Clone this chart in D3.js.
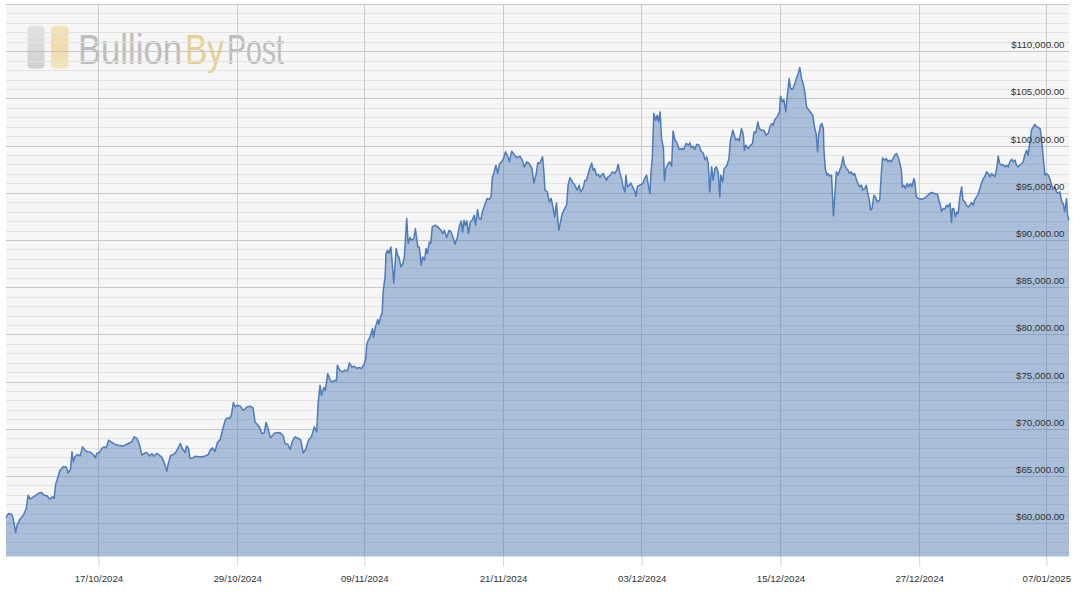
<!DOCTYPE html>
<html><head><meta charset="utf-8">
<script src="https://cdn.jsdelivr.net/npm/d3@7"></script>
<style>html,body{margin:0;padding:0;background:#fff;}svg{display:block;}</style>
</head><body><svg id="chart" width="1084" height="596"></svg>
<script>
// Bitcoin price (USD), 9 Oct 2024 – 8 Jan 2025
const priceSeries = [
["2024-10-09T00",60620],["2024-10-09T05",61080],["2024-10-09T12",60980],["2024-10-09T15",60550],["2024-10-09T20",59070],["2024-10-09T23",59840],
["2024-10-10T05",60480],["2024-10-10T12",60900],["2024-10-10T18",61610],["2024-10-10T22",63020],
["2024-10-11T02",62600],["2024-10-11T09",62840],["2024-10-11T16",63090],["2024-10-11T21",63260],
["2024-10-12T02",63310],["2024-10-12T07",63020],["2024-10-12T13",62950],["2024-10-12T19",62600],
["2024-10-13T01",62840],["2024-10-13T04",62670],["2024-10-13T07",64150],["2024-10-13T11",64790],["2024-10-13T16",65670],["2024-10-13T23",66020],
["2024-10-14T05",66000],["2024-10-14T09",65380],["2024-10-14T14",65770],["2024-10-14T17",67610],["2024-10-14T20",66550],["2024-10-14T23",67080],
["2024-10-15T04",67330],["2024-10-15T10",67180],["2024-10-15T15",68140],["2024-10-15T20",67790],
["2024-10-16T01",67610],["2024-10-16T07",67600],["2024-10-16T13",67330],["2024-10-16T18",66970],["2024-10-16T20",67440],
["2024-10-17T02",67540],["2024-10-17T07",67970],["2024-10-17T12",68140],["2024-10-17T16",68030],["2024-10-17T21",68850],
["2024-10-18T04",68600],["2024-10-18T10",68420],["2024-10-18T17",68320],
["2024-10-19T00",68240],["2024-10-19T07",68320],["2024-10-19T14",68500],["2024-10-19T21",68670],
["2024-10-20T02",69200],["2024-10-20T08",69030],["2024-10-20T13",68390],["2024-10-20T18",67260],["2024-10-20T23",67440],
["2024-10-21T04",67540],["2024-10-21T10",67180],["2024-10-21T15",67440],["2024-10-21T19",67150],
["2024-10-22T01",67440],["2024-10-22T06",67260],["2024-10-22T11",67080],["2024-10-22T16",66550],["2024-10-22T22",65560],
["2024-10-23T01",66380],["2024-10-23T06",67260],["2024-10-23T12",67330],["2024-10-23T17",67610],["2024-10-23T21",67970],
["2024-10-24T02",68500],["2024-10-24T06",67970],["2024-10-24T12",67540],["2024-10-24T15",68240],["2024-10-24T19",67970],["2024-10-24T22",66910],
["2024-10-25T04",66970],["2024-10-25T09",67150],["2024-10-25T16",67080],["2024-10-25T23",67100],
["2024-10-26T06",67180],["2024-10-26T12",67330],["2024-10-26T16",67790],["2024-10-26T21",68030],
["2024-10-27T02",67680],["2024-10-27T07",68600],["2024-10-27T13",68950],["2024-10-27T18",70010],["2024-10-27T23",70960],
["2024-10-28T03",71210],["2024-10-28T08",71140],["2024-10-28T12",71490],["2024-10-28T16",72840],["2024-10-28T20",72370],
["2024-10-29T01",72550],["2024-10-29T06",72480],["2024-10-29T12",72020],["2024-10-29T17",72200],["2024-10-29T20",72370],
["2024-10-30T03",72450],["2024-10-30T09",72270],["2024-10-30T13",70780],["2024-10-30T18",70510],["2024-10-30T22",70260],
["2024-10-31T03",69560],["2024-10-31T08",69600],["2024-10-31T12",70720],["2024-10-31T17",69900],["2024-10-31T21",69110],
["2024-11-01T06",69620],["2024-11-01T17",69650],
["2024-11-02T00",69270],["2024-11-02T03",68500],["2024-11-02T09",68420],["2024-11-02T14",67860],["2024-11-02T18",68670],
["2024-11-03T00",69200],["2024-11-03T07",69030],["2024-11-03T12",68850],["2024-11-03T17",67500],["2024-11-03T22",67860],
["2024-11-04T04",68850],["2024-11-04T10",69200],["2024-11-04T16",70260],["2024-11-04T21",69730],
["2024-11-05T00",72730],["2024-11-05T04",74670],["2024-11-05T07",73610],["2024-11-05T12",74430],["2024-11-05T15",74140],["2024-11-05T20",75910],
["2024-11-06T01",75200],["2024-11-06T05",75020],["2024-11-06T11",75200],["2024-11-06T14",75130],["2024-11-06T16",76790],["2024-11-06T21",76260],
["2024-11-07T02",76080],["2024-11-07T08",76260],["2024-11-07T13",76190],["2024-11-07T17",77030],["2024-11-07T22",76550],
["2024-11-08T03",76690],["2024-11-08T08",76440],["2024-11-08T13",76550],["2024-11-08T18",76440],
["2024-11-09T00",76970],["2024-11-09T03",77500],["2024-11-09T05",79020],["2024-11-09T08",79440],["2024-11-09T12",79790],["2024-11-09T17",80680],["2024-11-09T19",79730],["2024-11-09T23",80850],
["2024-11-10T04",81630],["2024-11-10T06",81130],["2024-11-10T11",82090],["2024-11-10T13",82330],["2024-11-10T15",84560],["2024-11-10T19",86140],["2024-11-10T21",88620],
["2024-11-11T00",88970],["2024-11-11T03",88620],["2024-11-11T07",89320],["2024-11-11T10",87560],["2024-11-11T13",85510],["2024-11-11T16",87560],["2024-11-11T18",89150],["2024-11-11T21",88440],
["2024-11-12T00",88200],["2024-11-12T04",87200],["2024-11-12T08",87560],["2024-11-12T11",88260],["2024-11-12T14",90740],["2024-11-12T16",92330],["2024-11-12T19",89680],["2024-11-12T23",90320],
["2024-11-13T02",90030],["2024-11-13T07",90210],["2024-11-13T10",91270],["2024-11-13T15",89320],["2024-11-13T18",89300],["2024-11-13T22",87380],
["2024-11-14T01",88260],["2024-11-14T05",87910],["2024-11-14T08",89150],["2024-11-14T11",88620],["2024-11-14T15",89850],["2024-11-14T18",89680],["2024-11-14T21",91440],
["2024-11-15T03",91620],["2024-11-15T10",91380],["2024-11-15T15",91090],["2024-11-15T19",90740],["2024-11-15T22",91090],
["2024-11-16T03",90320],["2024-11-16T08",91090],["2024-11-16T12",90910],["2024-11-16T17",90210],["2024-11-16T20",89610],
["2024-11-17T01",90320],["2024-11-17T05",91440],["2024-11-17T09",92080],["2024-11-17T12",90910],["2024-11-17T15",92150],["2024-11-17T18",91620],["2024-11-17T21",92080],
["2024-11-18T00",90740],["2024-11-18T04",91970],["2024-11-18T08",92150],["2024-11-18T12",92680],["2024-11-18T15",91620],["2024-11-18T19",93280],["2024-11-18T22",92330],
["2024-11-19T02",92230],["2024-11-19T05",93030],["2024-11-19T11",93920],["2024-11-19T15",94450],["2024-11-19T19",94340],["2024-11-19T23",94620],
["2024-11-20T02",96740],["2024-11-20T05",97160],["2024-11-20T09",97980],["2024-11-20T13",97100],["2024-11-20T17",98160],["2024-11-20T21",98330],
["2024-11-21T01",98690],["2024-11-21T05",99390],["2024-11-21T10",98860],["2024-11-21T13",98330],["2024-11-21T18",99460],
["2024-11-22T00",99040],["2024-11-22T04",98790],["2024-11-22T11",98930],["2024-11-22T16",98510],["2024-11-22T20",97800],
["2024-11-23T01",98330],["2024-11-23T06",98160],["2024-11-23T12",97630],["2024-11-23T16",96100],["2024-11-23T21",97100],
["2024-11-24T00",98240],["2024-11-24T04",98160],["2024-11-24T10",98860],["2024-11-24T13",97100],["2024-11-24T15",95330],["2024-11-24T20",95150],
["2024-11-25T00",94090],["2024-11-25T04",94450],["2024-11-25T08",93390],["2024-11-25T11",92500],["2024-11-25T15",93980],["2024-11-25T18",91970],["2024-11-25T20",91090],
["2024-11-26T00",92150],["2024-11-26T03",92860],["2024-11-26T08",93390],["2024-11-26T12",93740],["2024-11-26T15",95860],["2024-11-26T19",96670],
["2024-11-27T00",96210],["2024-11-27T05",95860],["2024-11-27T10",95330],["2024-11-27T14",95860],["2024-11-27T17",95150],["2024-11-27T22",95510],
["2024-11-28T02",96390],["2024-11-28T05",96350],["2024-11-28T09",97100],["2024-11-28T12",97630],["2024-11-28T16",98220],["2024-11-28T19",97450],["2024-11-28T22",97630],
["2024-11-29T02",96920],["2024-11-29T06",97020],["2024-11-29T09",96670],["2024-11-29T12",96920],["2024-11-29T16",97100],["2024-11-29T19",96740],["2024-11-29T23",96390],
["2024-11-30T02",96740],["2024-11-30T07",96920],["2024-11-30T11",97270],["2024-11-30T16",97100],["2024-11-30T20",97450],["2024-11-30T23",98080],
["2024-12-01T02",97270],["2024-12-01T06",96570],["2024-12-01T09",95680],["2024-12-01T13",95150],["2024-12-01T15",96920],["2024-12-01T18",95680],["2024-12-01T22",95860],
["2024-12-02T01",96100],["2024-12-02T05",95680],["2024-12-02T10",95150],["2024-12-02T12",94690],["2024-12-02T15",95750],["2024-12-02T20",95860],
["2024-12-03T02",96040],["2024-12-03T06",96570],["2024-12-03T10",96920],["2024-12-03T13",96040],["2024-12-03T17",94980],["2024-12-03T19",97100],["2024-12-03T22",98860],
["2024-12-04T01",103450],["2024-12-04T05",102740],["2024-12-04T08",103270],["2024-12-04T11",102560],["2024-12-04T14",103620],["2024-12-04T17",100800],["2024-12-04T21",99750],["2024-12-04T23",96310],
["2024-12-05T02",97630],["2024-12-05T07",98160],["2024-12-05T10",98330],["2024-12-05T14",97870],["2024-12-05T17",101610],["2024-12-05T21",100630],
["2024-12-06T00",100450],["2024-12-06T06",99640],["2024-12-06T11",99750],["2024-12-06T15",99640],["2024-12-06T20",100280],
["2024-12-07T01",100100],["2024-12-07T04",100340],["2024-12-07T07",99850],["2024-12-07T11",99990],["2024-12-07T14",99640],["2024-12-07T18",100200],["2024-12-07T23",100100],
["2024-12-08T03",99490],["2024-12-08T08",99220],["2024-12-08T11",98580],["2024-12-08T15",98860],["2024-12-08T18",98160],["2024-12-08T21",95150],
["2024-12-09T01",97800],["2024-12-09T04",96390],["2024-12-09T08",97630],["2024-12-09T11",97800],["2024-12-09T15",97100],["2024-12-09T18",94620],["2024-12-09T20",96920],
["2024-12-10T00",96210],["2024-12-10T03",97630],["2024-12-10T08",97870],["2024-12-10T13",98690],["2024-12-10T16",100550],["2024-12-10T21",101680],
["2024-12-11T00",101150],["2024-12-11T03",100630],["2024-12-11T07",100800],["2024-12-11T10",100520],["2024-12-11T15",101860],["2024-12-11T19",101150],["2024-12-11T21",99570],
["2024-12-12T00",100100],["2024-12-12T05",99750],["2024-12-12T10",100100],["2024-12-12T14",100280],["2024-12-12T17",101500],["2024-12-12T21",101400],
["2024-12-13T01",102560],["2024-12-13T04",101860],["2024-12-13T09",101680],["2024-12-13T14",101650],["2024-12-13T18",101150],["2024-12-13T23",101400],
["2024-12-14T02",102030],["2024-12-14T06",102390],["2024-12-14T09",102210],["2024-12-14T12",102800],["2024-12-14T17",103090],["2024-12-14T22",103620],
["2024-12-15T00",105290],["2024-12-15T04",104680],["2024-12-15T07",104940],["2024-12-15T11",103620],["2024-12-15T14",105290],["2024-12-15T18",107160],["2024-12-15T21",106100],
["2024-12-16T01",106000],["2024-12-16T06",106630],["2024-12-16T10",107330],["2024-12-16T13",107690],["2024-12-16T16",108330],["2024-12-16T20",107060],["2024-12-16T23",106630],
["2024-12-17T03",105570],["2024-12-17T06",104150],["2024-12-17T10",103880],["2024-12-17T19",103270],["2024-12-17T23",101860],
["2024-12-18T02",101330],["2024-12-18T05",99390],["2024-12-18T07",101150],["2024-12-18T11",102210],["2024-12-18T14",102390],["2024-12-18T17",101860],["2024-12-18T18",99750],["2024-12-18T21",97630],
["2024-12-19T00",96920],["2024-12-19T03",97100],["2024-12-19T06",96810],["2024-12-19T10",96920],["2024-12-19T12",94800],["2024-12-19T14",92610],["2024-12-19T17",94980],["2024-12-19T20",97270],["2024-12-19T23",96920],
["2024-12-20T03",97450],["2024-12-20T06",97800],["2024-12-20T10",98860],["2024-12-20T13",97980],["2024-12-20T17",97630],["2024-12-20T20",97450],
["2024-12-21T00",97100],["2024-12-21T03",97270],["2024-12-21T07",96920],["2024-12-21T10",97100],["2024-12-21T14",96390],["2024-12-21T17",96040],["2024-12-21T20",95680],
["2024-12-22T00",95860],["2024-12-22T03",95330],["2024-12-22T07",95510],["2024-12-22T10",95860],["2024-12-22T14",94800],["2024-12-22T17",94090],["2024-12-22T19",93210],["2024-12-22T22",93390],
["2024-12-23T02",94800],["2024-12-23T05",94620],["2024-12-23T09",94090],["2024-12-23T14",94270],["2024-12-23T18",97630],["2024-12-23T20",98750],
["2024-12-24T00",98510],["2024-12-24T04",98690],["2024-12-24T07",98330],["2024-12-24T11",98510],["2024-12-24T14",98330],["2024-12-24T18",98690],["2024-12-24T21",99040],
["2024-12-25T01",99220],["2024-12-25T04",98860],["2024-12-25T08",98160],["2024-12-25T11",97450],["2024-12-25T13",95680],["2024-12-25T16",95860],["2024-12-25T19",95510],["2024-12-25T23",96040],
["2024-12-26T02",95680],["2024-12-26T06",96040],["2024-12-26T09",95680],["2024-12-26T13",96570],["2024-12-26T15",96210],["2024-12-26T18",94620],["2024-12-26T22",94450],
["2024-12-27T05",94380],["2024-12-27T12",94510],["2024-12-27T18",94800],
["2024-12-28T01",95090],["2024-12-28T08",94980],["2024-12-28T14",94870],["2024-12-28T17",94270],["2024-12-28T20",93740],["2024-12-28T22",93100],
["2024-12-29T02",93390],["2024-12-29T05",93320],["2024-12-29T09",93740],["2024-12-29T12",93560],["2024-12-29T16",93920],["2024-12-29T19",91910],["2024-12-29T21",93390],
["2024-12-30T00",93350],["2024-12-30T03",92500],["2024-12-30T06",93030],["2024-12-30T09",92860],["2024-12-30T12",94450],["2024-12-30T16",95680],["2024-12-30T19",94270],["2024-12-30T23",94090],
["2024-12-31T02",93740],["2024-12-31T06",93560],["2024-12-31T09",93740],["2024-12-31T13",94030],["2024-12-31T16",93740],["2024-12-31T19",94270],["2024-12-31T23",94620],
["2025-01-01T02",94870],["2025-01-01T06",95510],["2025-01-01T09",96040],["2025-01-01T13",96570],["2025-01-01T16",96740],["2025-01-01T20",97270],["2025-01-01T23",97100],
["2025-01-02T03",96740],["2025-01-02T06",97100],["2025-01-02T10",96920],["2025-01-02T13",96740],["2025-01-02T17",97630],["2025-01-02T20",98960],["2025-01-02T23",98160],
["2025-01-03T03",97980],["2025-01-03T06",98050],["2025-01-03T10",97800],["2025-01-03T13",97980],["2025-01-03T17",97800],["2025-01-03T20",98330],
["2025-01-04T00",98610],["2025-01-04T03",98330],["2025-01-04T07",98510],["2025-01-04T10",97980],["2025-01-04T13",97800],["2025-01-04T17",97980],["2025-01-04T21",98160],
["2025-01-05T00",98330],["2025-01-05T03",99040],["2025-01-05T07",99570],["2025-01-05T10",99040],["2025-01-05T14",100450],["2025-01-05T17",101680],["2025-01-05T21",102030],
["2025-01-06T00",102290],["2025-01-06T04",102030],["2025-01-06T07",101990],["2025-01-06T11",101860],["2025-01-06T14",100800],["2025-01-06T17",99040],["2025-01-06T21",96920],
["2025-01-07T00",97100],["2025-01-07T04",96920],["2025-01-07T07",96570],["2025-01-07T11",95860],["2025-01-07T14",95510],["2025-01-07T18",95680],["2025-01-07T21",95150],
["2025-01-08T01",94980],["2025-01-08T04",95150],["2025-01-08T08",94090],["2025-01-08T11",93920],["2025-01-08T14",93030],["2025-01-08T18",94450],["2025-01-08T20",92680],["2025-01-08T23",92150]
];
const yTickValues = [60000, 65000, 70000, 75000, 80000, 85000, 90000, 95000, 100000, 105000, 110000];
const xTickLabels = ["17/10/2024", "29/10/2024", "09/11/2024", "21/11/2024", "03/12/2024", "15/12/2024", "27/12/2024", "07/01/2025"];
const logoWords = ["Bullion", "By", "Post"];
const yExtent = [56525, 115000];
const minorStep = 1000;
const majorStep = 5000;

const plot = {left: 6, right: 1069, top: 4.5, bottom: 556.5};
const parseT = d3.utcParse("%Y-%m-%dT%H");
const parseD = d3.utcParse("%d/%m/%Y");
const data = priceSeries.map(([t, v]) => ({t: parseT(t), v}));

const svg = d3.select("#chart");
const x = d3.scaleUtc().domain(d3.extent(data, d => d.t)).range([plot.left, plot.right]);
const y = d3.scaleLinear().domain(yExtent).range([plot.bottom, plot.top]);

// plot background
svg.append("rect").attr("x", plot.left).attr("y", plot.top)
  .attr("width", plot.right - plot.left).attr("height", plot.bottom - plot.top)
  .attr("fill", "#f6f6f6");

// watermark logo
const defs = svg.append("defs");
const g1 = defs.append("linearGradient").attr("id", "gGray").attr("x1", 0).attr("y1", 0).attr("x2", 0).attr("y2", 1);
g1.append("stop").attr("offset", "0%").attr("stop-color", "#e2e2e2");
g1.append("stop").attr("offset", "55%").attr("stop-color", "#dadada");
g1.append("stop").attr("offset", "100%").attr("stop-color", "#cfcfcf");
const g2 = defs.append("linearGradient").attr("id", "gGold").attr("x1", 0).attr("y1", 0).attr("x2", 0).attr("y2", 1);
g2.append("stop").attr("offset", "0%").attr("stop-color", "#f1e2b8");
g2.append("stop").attr("offset", "55%").attr("stop-color", "#efdcaa");
g2.append("stop").attr("offset", "100%").attr("stop-color", "#f3e6c2");
const logo = svg.append("g").attr("class", "logo");
logo.append("rect").attr("x", 27.5).attr("y", 26).attr("width", 17).attr("height", 42.5).attr("rx", 4).attr("fill", "url(#gGray)");
logo.append("rect").attr("x", 51).attr("y", 26).attr("width", 17.5).attr("height", 42.5).attr("rx", 4).attr("fill", "url(#gGold)");
const logoLayout = [
  {x: 78, w: 104, fill: "#bdbdbd"},
  {x: 185, w: 39, fill: "#e6d091"},
  {x: 227, w: 57, fill: "#bdbdbd"}
];
logo.selectAll("text").data(logoWords).join("text")
  .attr("x", 0).attr("y", 0)
  .attr("font-family", "'Liberation Sans', Arial, sans-serif").attr("font-size", 42)
  .attr("fill", (d, i) => logoLayout[i].fill)
  .text(d => d)
  .each(function(d, i) {
    const natural = this.getComputedTextLength() || 1;
    const sx = logoLayout[i].w / natural;
    d3.select(this).attr("transform", `translate(${logoLayout[i].x},63.5) scale(${sx},1)`);
  });

// horizontal grid lines
const grid = svg.append("g").attr("shape-rendering", "crispEdges");
const minorVals = d3.range(Math.ceil(yExtent[0] / minorStep) * minorStep, yExtent[1] + 1, minorStep);
grid.selectAll("line.minor").data(minorVals.filter(v => v % majorStep !== 0)).join("line")
  .attr("class", "minor")
  .attr("x1", plot.left).attr("x2", plot.right)
  .attr("y1", d => y(d)).attr("y2", d => y(d))
  .attr("stroke", "#e3e3e3").attr("stroke-width", 1);
grid.selectAll("line.major").data(minorVals.filter(v => v % majorStep === 0)).join("line")
  .attr("class", "major")
  .attr("x1", plot.left).attr("x2", plot.right)
  .attr("y1", d => y(d)).attr("y2", d => y(d))
  .attr("stroke", "#c6c6c6").attr("stroke-width", 1);

// vertical grid lines
const xTickDates = xTickLabels.map(parseD);
grid.selectAll("line.vgrid").data(xTickDates).join("line")
  .attr("class", "vgrid")
  .attr("x1", d => x(d)).attr("x2", d => x(d))
  .attr("y1", plot.top).attr("y2", plot.bottom)
  .attr("stroke", "#cbcbcb").attr("stroke-width", 1);

// area + line
const area = d3.area().x(d => x(d.t)).y0(plot.bottom).y1(d => y(d.v));
const line = d3.line().x(d => x(d.t)).y(d => y(d.v));
svg.append("path").datum(data).attr("d", area)
  .attr("fill", "rgb(78,121,181)").attr("fill-opacity", 0.45);
svg.append("path").datum(data).attr("d", line)
  .attr("fill", "none").attr("stroke", "#4e7bba").attr("stroke-width", 1.5)
  .attr("stroke-linejoin", "round");

// x axis
const xAxis = d3.axisBottom(x).tickValues(xTickDates)
  .tickFormat(d3.utcFormat("%d/%m/%Y")).tickSize(10).tickPadding(9);
const xg = svg.append("g").attr("transform", `translate(0,${plot.bottom})`).call(xAxis);
xg.select(".domain").remove();
xg.selectAll(".tick line").attr("stroke", "#d4d4d4");
xg.selectAll(".tick text").attr("fill", "#333").attr("font-size", "9.7px")
  .attr("font-family", "'Liberation Sans', Arial, sans-serif");

// y labels (inside plot, right aligned above grid lines)
svg.append("g").selectAll("text").data(yTickValues).join("text")
  .attr("x", 1064.5).attr("y", d => y(d) - 3.4)
  .attr("text-anchor", "end")
  .attr("font-family", "'Liberation Sans', Arial, sans-serif").attr("font-size", "9.7px")
  .attr("fill", "#333")
  .text(d => "$" + d3.format(",.2f")(d));
</script>
</body></html>
